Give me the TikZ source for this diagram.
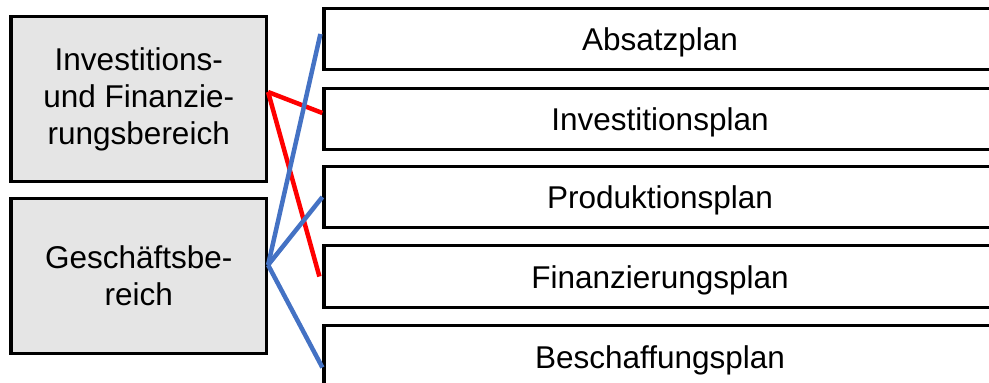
\documentclass[tikz,border=0pt]{standalone}
\usepackage{fontspec}
\setmainfont{Liberation Sans}
\begin{document}
\begin{tikzpicture}[x=1pt,y=-1pt,
  leftbox/.style={draw=black,line width=3.2pt,fill=gray!20!white,rectangle,inner sep=0pt,
    minimum width=255.5pt,align=center,font=\fontsize{31.5}{37}\selectfont},
  planbox/.style={draw=black,line width=3.2pt,fill=white,rectangle,inner sep=0pt,
    minimum width=672pt,minimum height=61.5pt,text height=23pt,text depth=0pt,
    font=\fontsize{31.5}{37}\selectfont},
  redline/.style={draw={rgb,255:red,255;green,0;blue,0},line width=4.5pt},
  blueline/.style={draw={rgb,255:red,68;green,114;blue,196},line width=4.5pt}]
\useasboundingbox (0,0) rectangle (989,383);
\clip (0,0) rectangle (989,383);
\node[leftbox,minimum height=165pt] (lb1) at (138.75,99) {Investitions-\\und Finanzie-\\rungsbereich};
\node[leftbox,minimum height=155pt] (lb2) at (138.75,276) {Geschäftsbe-\\reich};
\node[planbox] (p1) at (660,39) {Absatzplan};
\node[planbox] (p2) at (660,119) {Investitionsplan};
\node[planbox] (p3) at (660,197) {Produktionsplan};
\node[planbox] (p4) at (660,276.5) {Finanzierungsplan};
\node[planbox] (p5) at (660,356.5) {Beschaffungsplan};
\coordinate (rs) at ([yshift=7pt]lb1.east);
\coordinate (bs) at ([yshift=11pt]lb2.east);
\draw[redline] (rs) -- ([yshift=6pt]p2.west);
\draw[redline] (rs) -- ([xshift=-3pt]p4.west);
\draw[blueline] (bs) -- ([xshift=-2pt,yshift=5pt]p1.west);
\draw[blueline] (bs) -- (p3.west);
\draw[blueline] (bs) -- ([yshift=-11pt]p5.west);
\end{tikzpicture}
\end{document}
